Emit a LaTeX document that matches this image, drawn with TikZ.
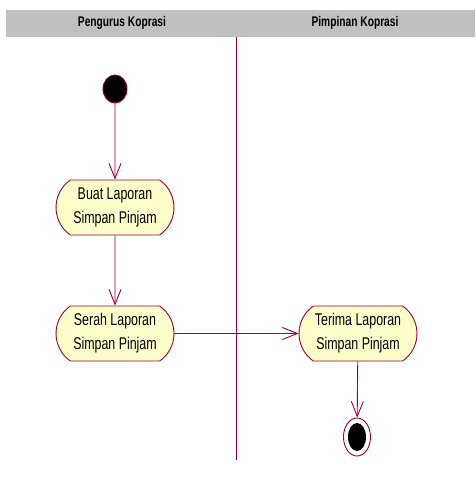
\documentclass[tikz,border=0pt]{standalone}
\usepackage{fontspec}
\setmainfont{Liberation Sans}[FakeStretch=0.73]
\usetikzlibrary{shapes.geometric, shapes.misc, arrows.meta}
\usetikzlibrary{positioning}
\definecolor{umlred}{HTML}{990033}
\definecolor{actfill}{HTML}{FFFFCC}
\definecolor{lanegray}{HTML}{C0C0C0}

\begin{document}
\begin{tikzpicture}[x=1pt, y=-1pt, actv/.style={draw=umlred, fill=actfill, line width=0.9pt,
		rounded rectangle, rounded rectangle arc length=110, minimum width=118pt, minimum height=55pt,
		inner sep=0pt, align=center, font=\fontsize{17}{24}\selectfont},
	strt/.style={draw=umlred, fill=black, line width=0.9pt, shape=ellipse, inner sep=0pt},
	flow/.style={draw=umlred, line width=0.9pt, -{Straight Barb[length=15pt,width=12pt]}},
	hdr/.style={font=\fontsize{14}{16}\selectfont\bfseries}]
	\useasboundingbox (0,0) rectangle (475,488);
	\fill[lanegray] (6,10) rectangle (475,37);
	\node[hdr] (h1) at (122,23) {Pengurus Koprasi};
	\node[hdr] (h2) at (355,23) {Pimpinan Koprasi};
	\draw[umlred, line width=0.9pt] (236,37) -- (236,460);
	\node[strt, minimum width=24pt, minimum height=28pt] (0) at (115,89) {};
	\node[actv] (1) at (115,207.5) {Buat Laporan\\Simpan Pinjam};
	\node[actv] (2) at (115,333.5) {Serah Laporan\\Simpan Pinjam};
	\node[actv] (3) at (358,333.5) {Terima Laporan\\Simpan Pinjam};
	\node[strt, fill=white, minimum width=27pt, minimum height=38pt] (4) at (357,437) {};
	\node[strt, draw=none, minimum width=18pt, minimum height=28pt] (5) at (4) {};
	\draw[flow] (0) to (1);
	\draw[flow] (1) to (2);
	\draw[flow] (2) to (3);
	\draw[flow] (3) to (4);
\end{tikzpicture}
\end{document}
